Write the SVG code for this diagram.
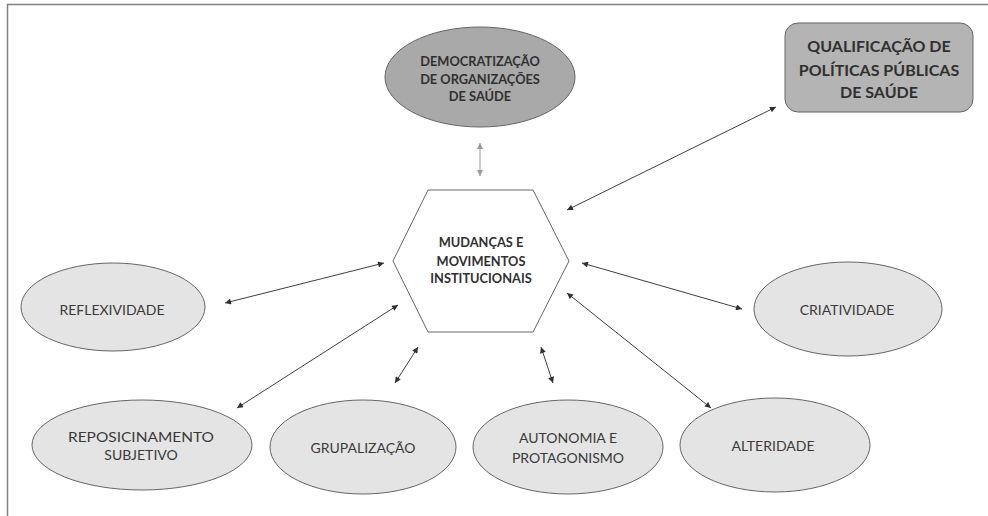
<svg xmlns="http://www.w3.org/2000/svg" width="988" height="516" viewBox="0 0 988 516">
<style>
.frame{fill:none;stroke:#808080;stroke-width:1.5}
.ell{fill:#e4e4e4;stroke:#666666;stroke-width:1}
.dark{fill:#a9a9a9;stroke:#666666;stroke-width:1}
.box{fill:#b4b4b4;stroke:#666666;stroke-width:1}
.hex{fill:#ffffff;stroke:#666666;stroke-width:1}
.t{font-family:Lato,"Liberation Sans",sans-serif;font-size:14px;fill:#3a3a3a;text-anchor:middle}
.b{font-weight:bold;font-size:12.8px;fill:#303030}
.big{font-size:16px}
.con{stroke:#404040;stroke-width:1;fill:none;marker-start:url(#ah);marker-end:url(#ah)}
.light{stroke:#9a9a9a;marker-start:url(#ahl);marker-end:url(#ahl)}
</style>
<defs>
<marker id="ah" viewBox="0 0 10 10" refX="10" refY="5" markerWidth="7" markerHeight="6" markerUnits="userSpaceOnUse" orient="auto-start-reverse">
<path d="M0,0 L10,5 L0,10 z" fill="#303030"/>
</marker>
<marker id="ahl" viewBox="0 0 10 10" refX="10" refY="5" markerWidth="7" markerHeight="6" markerUnits="userSpaceOnUse" orient="auto-start-reverse">
<path d="M0,0 L10,5 L0,10 z" fill="#9a9a9a"/>
</marker>
</defs>
<rect width="988" height="516" fill="#ffffff"/>
<path class="frame" d="M7.5,516 V4.5 H988"/>

<g id="connectors">
<line class="con light" x1="480" y1="143" x2="480" y2="176"/>
<line class="con" x1="776" y1="107" x2="567" y2="210"/>
<line class="con" x1="225" y1="303" x2="384" y2="263"/>
<line class="con" x1="237" y1="408" x2="398" y2="305"/>
<line class="con" x1="418" y1="347" x2="395" y2="383"/>
<line class="con" x1="541" y1="347" x2="553" y2="383"/>
<line class="con" x1="582" y1="263" x2="742" y2="309"/>
<line class="con" x1="567" y1="293" x2="711" y2="408"/>
</g>

<g id="democratizacao">
<ellipse class="dark" cx="480" cy="77" rx="95" ry="50"/>
<text class="t b" x="480" y="66">DEMOCRATIZAÇÃO</text>
<text class="t b" x="480" y="84">DE ORGANIZAÇÕES</text>
<text class="t b" x="480" y="101">DE SAÚDE</text>
</g>

<g id="qualificacao">
<rect class="box" x="785" y="23" width="188" height="89" rx="13"/>
<text class="t b big" x="879" y="52">QUALIFICAÇÃO DE</text>
<text class="t b big" x="879" y="76">POLÍTICAS PÚBLICAS</text>
<text class="t b big" x="879" y="98">DE SAÚDE</text>
</g>

<g id="mudancas">
<polygon class="hex" points="428,190 533,190 569,261 533,332 428,332 393,261"/>
<text class="t b" x="481" y="247">MUDANÇAS E</text>
<text class="t b" x="481" y="266">MOVIMENTOS</text>
<text class="t b" x="481" y="283">INSTITUCIONAIS</text>
</g>

<g id="reflexividade">
<ellipse class="ell" cx="113" cy="307" rx="92" ry="44"/>
<text class="t" x="112" y="315">REFLEXIVIDADE</text>
</g>

<g id="criatividade">
<ellipse class="ell" cx="848" cy="309" rx="94" ry="47"/>
<text class="t" x="847" y="315">CRIATIVIDADE</text>
</g>

<g id="reposicinamento">
<ellipse class="ell" cx="142" cy="445" rx="110" ry="45"/>
<text class="t" x="141" y="442" textLength="146" lengthAdjust="spacingAndGlyphs">REPOSICINAMENTO</text>
<text class="t" x="141" y="460">SUBJETIVO</text>
</g>

<g id="grupalizacao">
<ellipse class="ell" cx="363" cy="447" rx="93" ry="47"/>
<text class="t" x="363" y="453">GRUPALIZAÇÃO</text>
</g>

<g id="autonomia">
<ellipse class="ell" cx="568" cy="447" rx="95" ry="47"/>
<text class="t" x="568" y="443">AUTONOMIA E</text>
<text class="t" x="568" y="463">PROTAGONISMO</text>
</g>

<g id="alteridade">
<ellipse class="ell" cx="775" cy="445" rx="95" ry="47"/>
<text class="t" x="773" y="451">ALTERIDADE</text>
</g>
</svg>
